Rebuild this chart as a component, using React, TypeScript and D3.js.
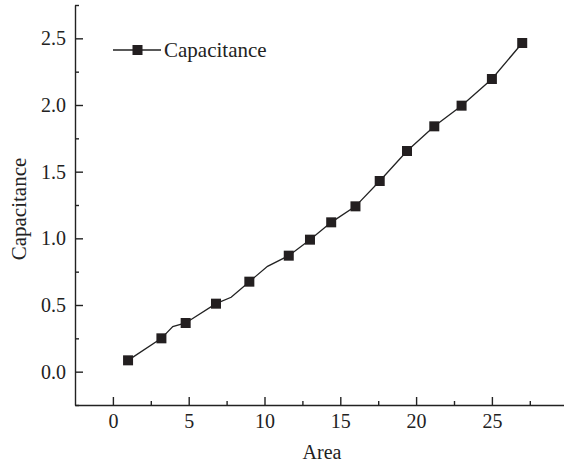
import React, { useEffect, useRef } from 'react'
import * as d3 from 'd3'

// marker points (area, capacitance)
const areaValues = [1, 3.2, 4.8, 6.8, 9, 11.6, 13, 14.4, 16, 17.6, 19.4, 21.2, 23, 25, 27]
const capValues = [0.085, 0.25, 0.365, 0.51, 0.675, 0.87, 0.99, 1.12, 1.24, 1.43, 1.655, 1.84, 1.995, 2.195, 2.465]
// extra vertices of the curve without markers
const bendArea = [3.95, 7.8, 10.2]
const bendCap = [0.338, 0.558, 0.79]

const xTicks = [0, 5, 10, 15, 20, 25]
const yTicks = [0.0, 0.5, 1.0, 1.5, 2.0, 2.5]
const seriesName = 'Capacitance'

const W = 564
const H = 467
const font = '"Liberation Serif", "Times New Roman", serif'

const Chart = () => {
  const ref = useRef<SVGSVGElement>(null)

  useEffect(() => {
    const svg = d3.select(ref.current)
    svg.selectAll('*').remove()

    const x = d3.scaleLinear().domain([-2.5, 30]).range([75, 75 + 32.5 * 15.16])
    const y = d3.scaleLinear().domain([-0.25, 2.75]).range([405, 5])

    const xAxis = svg.append('g').attr('transform', `translate(0,${y(-0.25)})`)
      .call(d3.axisBottom(x).tickValues(xTicks).tickSizeInner(-8).tickSizeOuter(0).tickPadding(9).tickFormat(d3.format('d')))
    const xMinor = svg.append('g').attr('transform', `translate(0,${y(-0.25)})`)
      .call(d3.axisBottom(x).tickValues(xTicks.map(t => t + 2.5)).tickSizeInner(-4).tickSizeOuter(0).tickFormat(() => ''))
    xMinor.select('.domain').remove()

    const yAxis = svg.append('g').attr('transform', `translate(${x(-2.5)},0)`)
      .call(d3.axisLeft(y).tickValues(yTicks).tickSizeInner(-8).tickSizeOuter(0).tickPadding(9).tickFormat(d3.format('.1f')))
    const yMinor = svg.append('g').attr('transform', `translate(${x(-2.5)},0)`)
      .call(d3.axisLeft(y).tickValues(yTicks.map(t => t + 0.25).concat([-0.25 + 0])).tickSizeInner(-4).tickSizeOuter(0).tickFormat(() => ''))
    yMinor.select('.domain').remove()

    for (const g of [xAxis, xMinor, yAxis, yMinor]) {
      g.selectAll('path,line').attr('stroke', '#222').attr('stroke-width', 1.4)
      g.selectAll('text').attr('font-family', font).attr('font-size', 20).attr('fill', '#222')
    }

    // line through markers and bend points
    const pts = areaValues.map((a, i) => [a, capValues[i]] as [number, number])
      .concat(bendArea.map((a, i) => [a, bendCap[i]] as [number, number]))
      .sort((p, q) => p[0] - q[0])
    const line = d3.line<[number, number]>().x(d => x(d[0])).y(d => y(d[1]))
    svg.append('path').datum(pts).attr('d', line).attr('fill', 'none')
      .attr('stroke', '#222').attr('stroke-width', 1.3)

    svg.selectAll('rect.pt').data(areaValues).enter().append('rect')
      .attr('class', 'pt')
      .attr('x', (d) => x(d) - 5)
      .attr('y', (d, i) => y(capValues[i]) - 5)
      .attr('width', 10).attr('height', 10)
      .attr('fill', '#231f20')

    // legend
    const lg = svg.append('g')
    lg.append('line').attr('x1', 113).attr('x2', 161).attr('y1', 50).attr('y2', 50)
      .attr('stroke', '#222').attr('stroke-width', 1.3)
    lg.append('rect').attr('x', 132.5).attr('y', 45).attr('width', 10).attr('height', 10).attr('fill', '#231f20')
    lg.append('text').attr('x', 164).attr('y', 57).text(seriesName)
      .attr('font-family', font).attr('font-size', 21).attr('fill', '#222')

    // axis titles
    svg.append('text').attr('x', 322).attr('y', 459).attr('text-anchor', 'middle')
      .attr('font-family', font).attr('font-size', 20).attr('fill', '#222').text('Area')
    svg.append('text').attr('transform', 'translate(26,209) rotate(-90)').attr('text-anchor', 'middle')
      .attr('font-family', font).attr('font-size', 21).attr('fill', '#222').text('Capacitance')
  }, [])

  return (
    <svg ref={ref} width={W} height={H} style={{ position: 'absolute', left: 0, top: 0, background: '#fff' }} />
  )
}

export default function App() {
  return <Chart />
}
